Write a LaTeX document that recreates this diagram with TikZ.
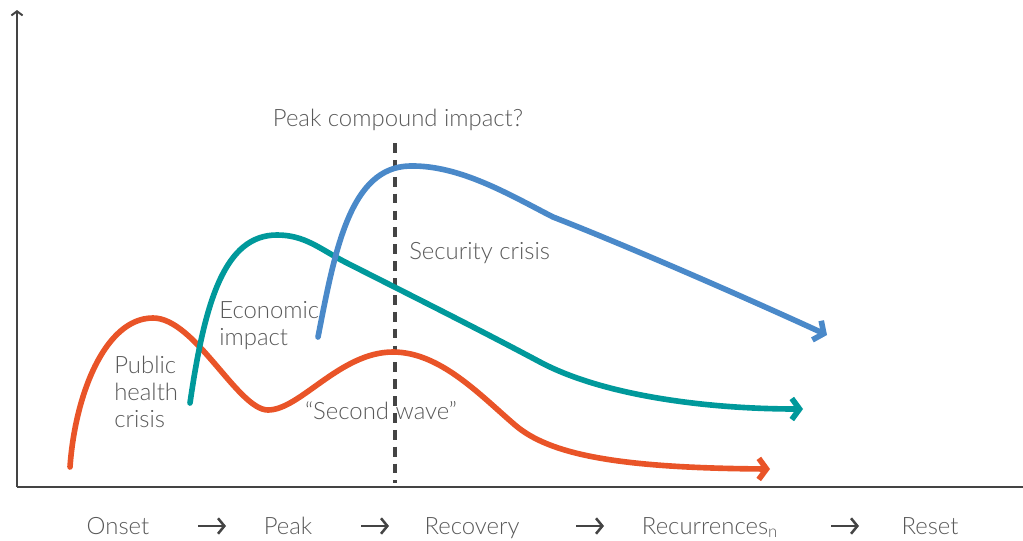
\documentclass[tikz,border=0pt]{standalone}
\usepackage{fontspec}
\setmainfont{Lato Light}
\usetikzlibrary{arrows.meta}

\definecolor{healthred}{HTML}{E95428}
\definecolor{econteal}{HTML}{00999B}
\definecolor{secblue}{HTML}{4A89C9}
\definecolor{textgray}{HTML}{595959}
\definecolor{axisgray}{HTML}{444444}

\tikzset{
  lbl/.style={text=textgray, font=\fontsize{17}{19.2}\selectfont, inner sep=0pt, align=left},
  wave/.style={line width=4pt, line cap=round, -{Straight Barb[length=5.5pt,width=15pt]}},
  steparrow/.style={axisgray, line width=1.8pt, -{Straight Barb[length=4.5pt,width=11pt]}}
}

\begin{document}
\begin{tikzpicture}[x=0.025cm, y=-0.025cm]
    \useasboundingbox (0,0) rectangle (1023,540);
    % draw axis
    \coordinate (origin) at (17,487);
    \coordinate (xend) at (1023,487);
    \coordinate (yend) at (17,10);
    \draw[axisgray, line width=1.4pt] (xend) -- (origin);
    \draw[axisgray, line width=1.4pt, -{Straight Barb[length=3pt,width=8pt]}] (origin) -- (yend);

    % peak line
    \coordinate (dtop) at (395,143);
    \coordinate (dbot) at (395,483);
    \draw[axisgray, line width=2.2pt, dash pattern=on 7pt off 5pt] (dtop) -- (dbot);
    \node[lbl, anchor=base] (peakq) at (398,126) {Peak compound impact?};

    % draw curves
    \draw[wave, healthred] (70,467) .. controls (75,395) and (105,318) .. (153,318)
        .. controls (195,318) and (238,410) .. (268,410)
        .. controls (300,410) and (340,352) .. (393,352)
        .. controls (440,352) and (480,395) .. (515,425)
        .. controls (550,455) and (620,468) .. (770,469);
    \draw[wave, econteal] (190,403) .. controls (205,300) and (225,235) .. (277,235)
        .. controls (305,235) and (320,249) .. (345,262)
        .. controls (420,300) and (480,330) .. (540,362)
        .. controls (600,394) and (700,409) .. (803,409);
    \draw[wave, secblue] (318,337) .. controls (335,250) and (350,167) .. (410,166)
        .. controls (460,165) and (510,195) .. (553,217)
        .. controls (620,243) and (740,295) .. (827,335);

    % curve labels
    \node[lbl, anchor=base west] (security) at (409,259) {Security crisis};
    \node[lbl, anchor=north west] (econ) at (219,301) {Economic\\impact};
    \node[lbl, anchor=north west] (health) at (114,356) {Public\\health\\crisis};
    \node[lbl, anchor=base] (second) at (381,419) {“Second wave”};

    % phases
    \node[lbl, anchor=base] (onset) at (118,534) {Onset};
    \node[lbl, anchor=base] (peak) at (288,534) {Peak};
    \node[lbl, anchor=base] (recovery) at (472,534) {Recovery};
    \node[lbl, anchor=base] (recur) at (710,534) {Recurrences\textsubscript{n}};
    \node[lbl, anchor=base] (reset) at (930,534) {Reset};
    \foreach \x in {212,375,590,845}
        \draw[steparrow] (\x-14,526) -- (\x+14,526);
\end{tikzpicture}
\end{document}
